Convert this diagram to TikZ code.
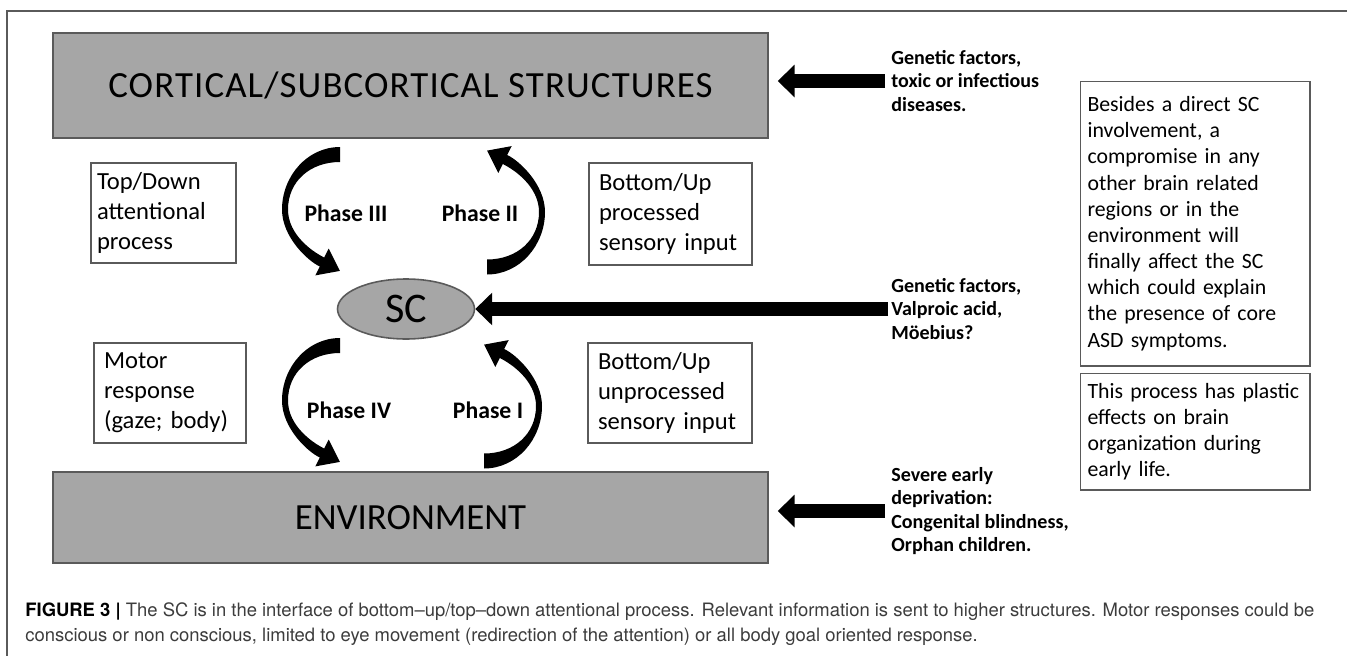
\documentclass[tikz,border=0pt]{standalone}
\usepackage{fontspec}
\setmainfont{Carlito}
\newfontfamily\capfont{TeX Gyre Heros}
\usetikzlibrary{arrows.meta,positioning,shapes.geometric}
\definecolor{blkgray}{HTML}{A6A6A6}
\definecolor{linegray}{HTML}{5A5A5A}
\definecolor{capgray}{HTML}{3C3C3C}
\tikzset{
  grayblk/.style={draw=linegray,fill=blkgray,line width=0.9pt,minimum width=14.3cm,font=\fontsize{21}{25}\selectfont},
  txtblk/.style={draw=linegray,fill=white,line width=0.6pt,align=left,inner ysep=0pt,font=\fontsize{14}{17}\selectfont},
  noteblk/.style={txtblk,font=\fontsize{12.4}{14.9}\selectfont,text width=4.3cm,inner xsep=0.15cm,minimum width=4.6cm},
  lbl/.style={font=\bfseries\fontsize{11.4}{13.4}\selectfont,align=left,anchor=west,inner sep=0pt},
  phlbl/.style={font=\bfseries\fontsize{13.5}{16}\selectfont,inner sep=0pt},
  blockarr/.style={-{Triangle[length=9.6pt,width=18pt]},line width=8.5pt},
  capstyle/.style={font=\capfont\fontsize{10.5}{13}\selectfont,text=capgray,inner sep=0pt,anchor=base west},
  frameline/.style={draw=linegray,line width=0.8pt},
  phasearc/.pic={
    \fill (0,-7.5) .. controls (-33,-7.5) and (-58,22) .. (-58,55)
      .. controls (-58,82) and (-33,106) .. (-20.2,112)
      -- (-24.7,120.9) -- (-0.1,116.4) -- (-11.3,94.1) -- (-15.8,103)
      .. controls (-28,97) and (-52,80) .. (-52,55)
      .. controls (-52,27) and (-30,7.5) .. (0,7.5) -- cycle;
  }
}

\begin{document}
\begin{tikzpicture}[x=0.02cm,y=-0.02cm]
  \useasboundingbox (0,0) rectangle (1347,656);
  \draw[frameline] (7,656) -- (7,11) -- (1347,11);

  % main blocks
  \node[grayblk,minimum height=2.1cm] (cortex) at (410.5,85.5) {\addfontfeature{LetterSpace=3}CORTICAL/SUBCORTICAL STRUCTURES};
  \node[grayblk,minimum height=1.82cm] (env) at (410.5,517.5) {ENVIRONMENT};
  \node[ellipse,draw=linegray,fill=blkgray,line width=0.9pt,minimum width=2.74cm,minimum height=1.2cm,inner sep=0pt,font=\fontsize{24}{28}\selectfont] (sc) at (406,309) {SC};

  % side boxes
  \node[txtblk,text width=2.66cm,inner xsep=0.12cm,minimum height=2cm] (topdown) at (163.5,213) {Top/Down\\attentional\\process};
  \node[txtblk,text width=2.86cm,inner xsep=0.2cm,minimum height=2.04cm] (procin) at (670.5,214) {Bottom/Up\\processed\\sensory input};
  \node[txtblk,text width=2.64cm,inner xsep=0.2cm,minimum height=2cm] (motor) at (170,393) {Motor\\response\\(gaze; body)};
  \node[txtblk,text width=2.88cm,inner xsep=0.2cm,minimum height=2cm] (rawin) at (670,393) {Bottom/Up\\unprocessed\\sensory input};

  % phases
  \pic (arc3) at (340,154.5) {phasearc};
  \pic[rotate=180] (arc2) at (487,267) {phasearc};
  \pic (arc4) at (340,345.5) {phasearc};
  \pic[rotate=180] (arc1) at (484,461) {phasearc};
  \node[phlbl] (ph3) at (346,213) {Phase III};
  \node[phlbl] (ph2) at (480,213) {Phase II};
  \node[phlbl] (ph4) at (349,410) {Phase IV};
  \node[phlbl] (ph1) at (488,410) {Phase I};

  % causes
  \node[lbl] (cause1) at (891,81) {Genetic factors,\\toxic or infectious\\diseases.};
  \node[lbl] (cause2) at (891,309) {Genetic factors,\\Valproic acid,\\Möebius?};
  \node[lbl] (cause3) at (891,511) {Severe early\\deprivation:\\Congenital blindness,\\Orphan children.};
  \draw[blockarr,shorten <=0.12cm,shorten >=0.18cm] (cause1.west) -- (cause1.west -| cortex.east);
  \draw[blockarr,shorten <=0.06cm] (cause2.west) -- (sc.east);
  \draw[blockarr,shorten <=0.12cm,shorten >=0.18cm] (cause3.west) -- (cause3.west -| env.east);

  % notes
  \node[noteblk,minimum height=5.7cm] (note1) at (1195,223.5) {Besides a direct SC\\involvement, a\\compromise in any\\other brain related\\regions or in the\\environment will\\finally affect the SC\\which could explain\\the presence of core\\ASD symptoms.};
  \node[noteblk,minimum height=2.34cm,below=0.12cm of note1] (note2) {This process has plastic\\effects on brain\\organization during\\early life.};

  % caption
  \node[capstyle] (cap1) at (25,616) {{\bfseries\color{black}FIGURE 3 |} The SC is in the interface of bottom–up/top–down attentional process. Relevant information is sent to higher structures. Motor responses could be};
  \node[capstyle] (cap2) at (25,641) {conscious or non conscious, limited to eye movement (redirection of the attention) or all body goal oriented response.};
\end{tikzpicture}
\end{document}
